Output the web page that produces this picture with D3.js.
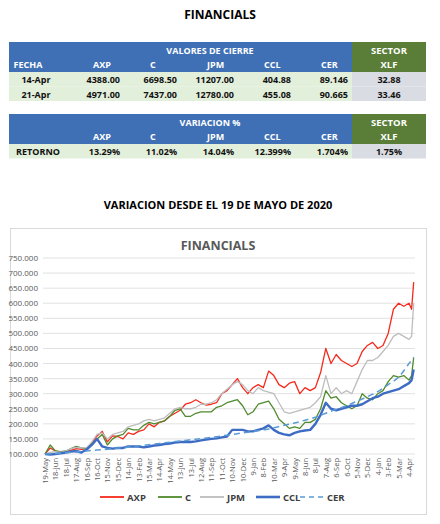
<!DOCTYPE html>
<html><head><meta charset="utf-8">
<script src="https://cdn.jsdelivr.net/npm/d3@7"></script>
<style>body{margin:0;background:#fff}svg{font-family:"Open Sans","Liberation Sans",sans-serif}</style>
</head><body><svg id="c" width="440" height="524"></svg>
<script>
const monthLabels=["19-May","18-Jun","18-Jul","17-Aug","16-Sep","16-Oct","15-Nov","15-Dec","14-Jan","13-Feb","15-Mar","14-Apr","14-May","13-Jun","13-Jul","12-Aug","11-Sep","11-Oct","10-Nov","10-Dec","9-Jan","8-Feb","10-Mar","9-Apr","9-May","8-Jun","8-Jul","7-Aug","6-Sep","6-Oct","5-Nov","5-Dec","4-Jan","3-Feb","5-Mar","4-Apr"];
const yTicks=[100,150,200,250,300,350,400,450,500,550,600,650,700,750];
// half-month steps t = 0,0.5,... then final point
const axp=[100,120,110,105,108,112,118,115,118,135,160,175,140,160,158,150,170,165,175,180,200,190,205,210,225,235,245,265,270,280,270,262,265,270,300,310,330,350,320,300,320,330,320,375,360,330,320,335,340,300,320,310,320,370,450,400,430,410,400,390,400,440,460,470,450,460,500,580,600,590,600,580,670];
const cSer=[100,130,110,108,110,118,125,120,118,135,150,165,130,150,160,165,185,180,180,195,205,200,205,210,225,245,250,225,225,235,240,240,240,255,260,270,275,280,260,230,240,265,270,275,250,215,200,185,190,185,205,205,215,250,310,285,290,270,260,250,260,300,285,280,300,310,340,360,355,360,345,360,420];
const jpm=[100,105,108,105,110,118,122,120,120,140,165,170,150,165,170,175,190,195,200,210,215,210,215,220,235,250,255,250,250,255,265,265,270,280,300,315,330,340,330,310,300,320,310,305,300,270,240,235,240,245,250,255,270,290,360,300,320,300,310,300,340,380,410,410,420,440,460,490,500,490,480,490,600];
const ccl=[100,98,100,102,105,108,110,105,115,130,150,125,120,118,120,120,125,125,125,122,125,128,130,133,135,138,140,140,140,142,145,148,150,152,155,158,180,180,180,175,175,180,185,195,180,170,165,162,170,175,178,180,200,230,270,250,245,250,255,260,260,265,275,285,290,300,305,310,315,325,335,345,380];
const cer=[100,102,104,107,110,113,116,120,123,127,131,135,139,143,147,151,155,160,165,170,175,180,187,195,203,212,222,235,248,260,275,290,307,330,355,400,420];
const series=[
 {name:"AXP",vals:axp,color:"#F5291C",w:1.3},
 {name:"C",vals:cSer,color:"#4F8A2C",w:1.3},
 {name:"JPM",vals:jpm,color:"#BDBDBD",w:1.3},
 {name:"CCL",vals:ccl,color:"#3E6CC4",w:2.4},
];
const hdr1=["FECHA","AXP","C","JPM","CCL","CER","XLF"];
const rowsTop=[["14-Apr","4388.00","6698.50","11207.00","404.88","89.146","32.88"],["21-Apr","4971.00","7437.00","12780.00","455.08","90.665","33.46"]];
const hdr2=["","AXP","C","JPM","CCL","CER","XLF"];
const rowRet=["RETORNO","13.29%","11.02%","14.04%","12.399%","1.704%","1.75%"];

const svg=d3.select("#c");
const blue="#3F70B5",green="#5A7E38";
svg.append("text").attr("x",220).attr("y",19).attr("text-anchor","middle").attr("font-weight","bold").attr("font-size",12).text("FINANCIALS");
const cols=[9,67,124,181,238,295,352,426];
function cell(x0,x1,y0,y1,fill){svg.append("rect").attr("x",x0).attr("y",y0).attr("width",x1-x0).attr("height",y1-y0).attr("fill",fill);}
function txt(s,x,y,anchor,color,fs){svg.append("text").attr("x",x).attr("y",y).attr("text-anchor",anchor).attr("font-size",fs||9).attr("font-weight","bold").attr("fill",color).text(s);}
function header(y0,title,labels){
 cell(9,352,y0,y0+30,blue);cell(352,426,y0,y0+30,green);
 txt(title,210,y0+12,"middle","#fff");txt("SECTOR",389,y0+12,"middle","#fff",9.5);
 labels.forEach((l,i)=>{ if(i===0) txt(l,28,y0+26,"middle","#fff"); else if(i===6) txt(l,389,y0+26,"middle","#fff",9.5); else txt(l,cols[i]+26,y0+26,"start","#fff");});
}
function dataRow(y0,vals,first){
 cell(9,352,y0,y0+14.5,"#E2EFDA");cell(352,426,y0,y0+14.5,"#D9DCE3");
 vals.forEach((v,i)=>{ if(i===0) txt(v,first,y0+11,"middle","#111"); else if(i===6) txt(v,389,y0+11,"middle","#111"); else txt(v,cols[i+1]-4,y0+11,"end","#111");});
}
header(42,"VALORES DE CIERRE",hdr1);
rowsTop.forEach((r,i)=>dataRow(72+i*14.5,r,36));
header(114,"VARIACION %",hdr2);
dataRow(144,rowRet,38);

svg.append("text").attr("x",218).attr("y",209).attr("text-anchor","middle").attr("font-weight","bold").attr("font-size",11).text("VARIACION DESDE EL 19 DE MAYO DE 2020");
svg.append("rect").attr("x",10.5).attr("y",228.5).attr("width",416).attr("height",286).attr("fill","#fff").attr("stroke","#D9D9D9");
svg.append("text").attr("x",218).attr("y",250).attr("text-anchor","middle").attr("font-weight","bold").attr("font-size",12.5).attr("fill","#595959").text("FINANCIALS");

const x=d3.scaleLinear().domain([0,35]).range([45,409]);
const y=d3.scaleLinear().domain([100,750]).range([454,258]);
const g=svg.append("g");
yTicks.forEach(v=>{
 g.append("line").attr("x1",43).attr("x2",415).attr("y1",y(v)).attr("y2",y(v)).attr("stroke","#D9D9D9").attr("stroke-width",0.8);
 g.append("text").attr("x",38).attr("y",y(v)+3).attr("text-anchor","end").attr("font-size",8).attr("fill","#595959").text(v+".000");
});
monthLabels.forEach((l,i)=>{
 g.append("text").attr("transform",`translate(${x(i)+3},${458}) rotate(-90)`).attr("text-anchor","end").attr("font-size",7.5).attr("fill","#595959").text(l);
});
const tOf=(i,n)=> i===n-1 ? 35.45 : (i===n-2 ? 35.25 : i*0.5);
const line=d3.line().x(d=>x(d[0])).y(d=>y(d[1]));
series.forEach(s=>{
 g.append("path").attr("d",line(s.vals.map((v,i)=>[tOf(i,s.vals.length),v]))).attr("fill","none").attr("stroke",s.color).attr("stroke-width",s.w).attr("stroke-linejoin","round");
});
const cerPts=cer.map((v,i)=>[i<36?i:35.45,v]);
g.append("path").attr("d",d3.line().x(d=>x(d[0])).y(d=>y(d[1])).curve(d3.curveMonotoneX)(cerPts)).attr("fill","none").attr("stroke","#5B9BD5").attr("stroke-width",1.5).attr("stroke-dasharray","6,4");

const leg=[{n:"AXP",c:"#F5291C",w:1.8,x:100},{n:"C",c:"#4F8A2C",w:1.8,x:158},{n:"JPM",c:"#BDBDBD",w:1.8,x:200},{n:"CCL",c:"#3E6CC4",w:2.6,x:256},{n:"CER",c:"#5B9BD5",w:1.6,x:300,d:"5,4"}];
leg.forEach(l=>{
 svg.append("line").attr("x1",l.x).attr("x2",l.x+24).attr("y1",497).attr("y2",497).attr("stroke",l.c).attr("stroke-width",l.w).attr("stroke-dasharray",l.d||null);
 svg.append("text").attr("x",l.x+27).attr("y",501).attr("font-size",9.5).attr("font-weight","bold").attr("fill","#404040").text(l.n);
});
</script></body></html>
